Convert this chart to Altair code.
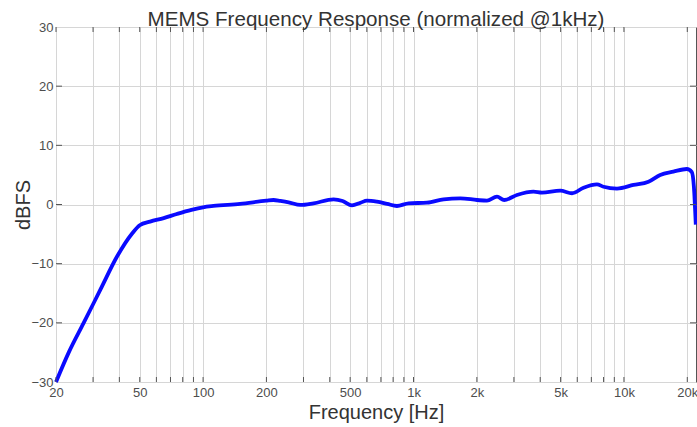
import altair as alt
import pandas as pd

# Measured response, normalized to 0 dB at 1 kHz
freq_hz = [20, 23, 27, 32.5, 39, 46, 50, 56, 65, 75, 88, 100, 112, 150, 200, 216,
           233, 255, 290, 335, 417, 460, 510, 560, 601, 670, 750, 834, 948, 1159,
           1390, 1668, 2005, 2234, 2493, 2698, 3100, 3717, 4075, 4980, 5666, 6430,
           7440, 8000, 9265, 11100, 13080, 14870, 17180, 19900, 21000, 21500, 21950]
level_db = [-30, -25, -20.1, -14.4, -8.8, -4.9, -3.5, -2.9, -2.3, -1.6, -0.9, -0.47,
            -0.25, 0.1, 0.65, 0.76, 0.6, 0.37, -0.08, 0.2, 0.87, 0.6, -0.15, 0.3,
            0.65, 0.47, 0.1, -0.25, 0.2, 0.3, 0.87, 1.05, 0.76, 0.64, 1.32, 0.76,
            1.6, 2.16, 2.0, 2.33, 1.9, 2.84, 3.4, 3.0, 2.7, 3.3, 3.85, 5.0, 5.55,
            6.0, 5.5, 3.0, -3.4]

# Axis ticks / grid
major_ticks = [20, 50, 100, 200, 500, 1000, 2000, 5000, 10000, 20000]
grid_freqs = [20, 30, 40, 50, 60, 70, 80, 90,
              100, 200, 300, 400, 500, 600, 700, 800, 900,
              1000, 2000, 3000, 4000, 5000, 6000, 7000, 8000, 9000,
              10000, 20000]
y_ticks = [-30, -20, -10, 0, 10, 20, 30]
inner_y_ticks = [-20, -10, 0, 10, 20]

W, H = 640, 355
FONT = "Liberation Sans"

xscale = alt.Scale(type="log", domain=[20, 22000], nice=False)
yscale = alt.Scale(domain=[-30, 30], nice=False)

df = pd.DataFrame({"f": freq_hz, "db": level_db})
df_xt = pd.DataFrame({"f": grid_freqs})
df_yt = pd.DataFrame({"db": inner_y_ticks})

major_js = "[" + ",".join(str(v) for v in major_ticks) + "]"
label_expr = (f"indexof({major_js}, datum.value) >= 0 ? "
              "(datum.value >= 1000 ? (datum.value/1000) + 'k' : datum.value + '') : ''")

common = dict(labelFont=FONT, labelFontSize=13, labelColor="#4d4d4d",
              titleFont=FONT, titleFontSize=20, titleFontWeight="normal",
              titleColor="#333333", gridColor="#d6d6d6", gridWidth=1,
              grid=True, ticks=False, domain=False, labelFlush=False,
              labelOverlap=False, labelBound=False)

x_axis = alt.Axis(title="Frequency [Hz]", values=grid_freqs, labelExpr=label_expr,
                  labelPadding=4, titleY=36, titleBaseline="alphabetic", **common)
y_axis = alt.Axis(title="dBFS", values=y_ticks, labelPadding=3,
                  titleX=-27, titleBaseline="alphabetic", **common)

X = alt.X("f:Q", scale=xscale, axis=x_axis)
Y = alt.Y("db:Q", scale=yscale, axis=y_axis)

line = alt.Chart(df).mark_line(color="#0a0aff", strokeWidth=3.8,
                               interpolate="monotone").encode(x=X, y=Y)

# Inward tick marks on all four sides of the frame
tick_color = "#555555"
xt_bottom = alt.Chart(df_xt).mark_rule(color=tick_color, strokeWidth=1).encode(
    x=X, y=alt.value(H), y2=alt.value(H - 5))
xt_top = alt.Chart(df_xt).mark_rule(color=tick_color, strokeWidth=1).encode(
    x=X, y=alt.value(0), y2=alt.value(5))
yt_left = alt.Chart(df_yt).mark_rule(color=tick_color, strokeWidth=1).encode(
    y=Y, x=alt.value(0), x2=alt.value(6))
yt_right = alt.Chart(df_yt).mark_rule(color=tick_color, strokeWidth=1).encode(
    y=Y, x=alt.value(W), x2=alt.value(W - 6))

chart = alt.layer(line, xt_bottom, xt_top, yt_left, yt_right).properties(
    width=W, height=H,
    background="white",
    title=alt.TitleParams("MEMS Frequency Response (normalized @1kHz)",
                          font=FONT, fontSize=20.6, fontWeight="normal",
                          color="#333333", frame="group", offset=0,
                          baseline="alphabetic", dy=26),
    autosize=alt.AutoSizeParams(type="none"),
    padding={"left": 56, "top": 27, "right": 1, "bottom": 45},
).configure_view(
    stroke="#555555", strokeWidth=1
)

chart.save("out.html", embed_options={"renderer": "svg", "actions": False})
